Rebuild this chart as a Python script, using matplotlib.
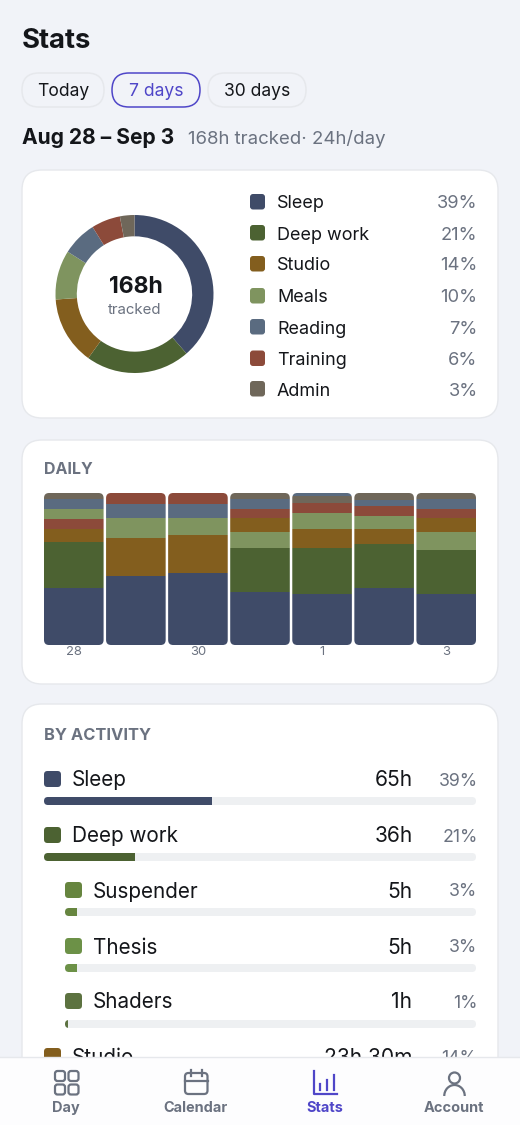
import matplotlib
matplotlib.use("Agg")
import matplotlib.pyplot as plt
import matplotlib.patches as patches

plt.rcParams['font.family'] = ['Inter', 'DejaVu Sans']

W, H = 520, 1125

# data
activities = ["Sleep", "Deep work", "Studio", "Meals", "Reading", "Training", "Admin"]
total_hours = [65, 36, 23.5, 17, 12, 10, 5]
percent_labels = ["39%", "21%", "14%", "10%", "7%", "6%", "3%"]

day_labels = ["28", "", "30", "", "1", "", "3"]
daily_order = [
    ["Sleep", "Deep work", "Studio", "Training", "Meals", "Reading", "Admin"],
    ["Sleep", "Studio", "Meals", "Reading", "Training"],
    ["Sleep", "Studio", "Meals", "Reading", "Training"],
    ["Sleep", "Deep work", "Meals", "Studio", "Training", "Reading", "Admin"],
    ["Sleep", "Deep work", "Studio", "Meals", "Training", "Admin", "Reading"],
    ["Sleep", "Deep work", "Studio", "Meals", "Training", "Reading", "Admin"],
    ["Sleep", "Deep work", "Meals", "Studio", "Training", "Reading", "Admin"],
]
daily_hours = [
    [9.05, 7.25, 2.0, 1.6, 1.6, 1.5, 1.0],
    [10.9, 5.95, 3.15, 2.3, 1.7],
    [11.3, 6.1, 2.6, 2.3, 1.7],
    [8.3, 7.05, 2.5, 2.15, 1.4, 1.6, 1.0],
    [8.0, 7.35, 2.95, 2.5, 1.6, 1.05, 0.55],
    [9.05, 6.9, 2.35, 2.1, 1.5, 1.05, 1.05],
    [8.0, 6.95, 2.9, 2.15, 1.4, 1.6, 1.0],
]

row_names = ["Sleep", "Deep work", "Suspender", "Thesis", "Shaders"]
row_hours = [65.2, 35.4, 4.8, 4.8, 1]
row_hour_labels = ["65h", "36h", "5h", "5h", "1h"]
row_percents = ["39%", "21%", "3%", "3%", "1%"]

colors = {"Sleep": "#3f4b68", "Deep work": "#4c6232", "Studio": "#835e1e", "Meals": "#7f945f",
          "Reading": "#5a6b80", "Training": "#8c4a3a", "Admin": "#6f675a",
          "Suspender": "#66853f", "Thesis": "#6c9147", "Shaders": "#5c7240"}

INK = "#14161a"
GREY = "#6b7280"
ACCENT = "#4f46c8"
BG = "#f1f3f8"
LINE = "#e6e8ec"


def px(size):
    return size * 0.72


fig = plt.figure(figsize=(W / 100, H / 100), dpi=100, facecolor=BG)
page = fig.add_axes([0, 0, 1, 1])
page.set_xlim(0, W)
page.set_ylim(H, 0)
page.axis("off")


def rbox(x0, y0, x1, y1, r, fc, ec="none", lw=1.0, z=1):
    box = patches.FancyBboxPatch((x0, y0), x1 - x0, y1 - y0, boxstyle=f"round,pad=0,rounding_size={r}",
                                 fc=fc, ec=ec, lw=lw, zorder=z, transform=page.transData)
    page.add_patch(box)
    return box


def label(x, y, s, size, color=INK, weight="normal", ha="left", z=3):
    page.text(x, y, s, fontsize=px(size), color=color, fontweight=weight, ha=ha, va="baseline", zorder=z)


def subAxes(x0, y0, x1, y1):
    ax = fig.add_axes([x0 / W, 1 - y1 / H, (x1 - x0) / W, (y1 - y0) / H], zorder=2)
    ax.patch.set_visible(False)
    return ax


# header
label(22, 48, "Stats", 27.5, weight="bold")
for x0, x1, txt, on in [(22, 104, "Today", False), (112, 200, "7 days", True), (208, 306, "30 days", False)]:
    rbox(x0, 73, x1, 107, 17, BG, ACCENT if on else LINE, 1.1)
    label((x0 + x1) / 2, 96, txt, 17.5, ACCENT if on else INK, ha="center")
label(22, 144, "Aug 28 – Sep 3", 21, weight="bold")
label(188, 144, "168h tracked· 24h/day", 18.6, GREY)

# cards
rbox(22, 170, 498, 418, 20, "white", LINE)
rbox(22, 440, 498, 684, 20, "white", LINE)
rbox(22, 704, 498, 1100, 20, "white", LINE)

# donut
ax_donut = subAxes(55.5, 215, 213.5, 373)
ax_donut.pie(total_hours, colors=[colors[a] for a in activities], startangle=90, counterclock=False,
             radius=1, wedgeprops={"width": 0.27, "linewidth": 0})
ax_donut.set_xlim(-1, 1)
ax_donut.set_ylim(-1, 1)
label(135.5, 293, "168h", 23, weight="bold", ha="center")
label(135, 314, "tracked", 15, GREY, ha="center")

legend_y = [202, 233, 264, 296, 327, 358.5, 389]
for name, pct, y in zip(activities, percent_labels, legend_y):
    rbox(250, y - 8, 265, y + 7.5, 3, colors[name])
    label(277, y + 6.5, name, 18)
    label(477.5, y + 6.5, pct, 18.3, GREY, ha="right")

# daily stacked bars
label(44, 474, "DAILY", 16, GREY, weight="bold")
ax_daily = subAxes(44, 493, 476, 645)
bar_w = 0.96
ax_daily.set_xlim(-bar_w / 2, 6 + bar_w / 2)
ax_daily.set_ylim(0, 24)
pitch = 432 / (6 + bar_w)
for i, (names, hours) in enumerate(zip(daily_order, daily_hours)):
    clip = patches.FancyBboxPatch((44 + pitch * i, 493), pitch * bar_w, 152,
                                  boxstyle="round,pad=0,rounding_size=5", fc="none", ec="none",
                                  transform=page.transData)
    bottom = 0
    for name, h in zip(names, hours):
        bar = ax_daily.bar(i, h, bottom=bottom, width=bar_w, color=colors[name], linewidth=0)
        bar[0].set_clip_path(clip)
        bottom += h
ax_daily.set_xticks(range(7), day_labels)
ax_daily.tick_params(axis="x", length=0, pad=1, labelsize=px(13), labelcolor=GREY)
ax_daily.set_yticks([])
for s in ax_daily.spines.values():
    s.set_visible(False)

# by activity rows
label(44, 740, "BY ACTIVITY", 16.5, GREY, weight="bold")
row_y = [779, 835, 890, 946, 1001]
bar_top = [797, 853, 908, 964, 1020]
row_x = [44, 44, 65, 65, 65]
for name, hrs, hlab, pct, y, bt, x0 in zip(row_names, row_hours, row_hour_labels, row_percents, row_y, bar_top, row_x):
    rbox(x0, y - 8, x0 + 17, y + 8, 3.5, colors[name])
    label(x0 + 28, y + 7.5, name, 20.7)
    label(412.5, y + 7.5, hlab, 21, ha="right")
    label(477.5, y + 6.5, pct, 17.7, GREY, ha="right")
    ax_row = subAxes(x0, bt, 476, bt + 8)
    clip = rbox(x0, bt, 476, bt + 8, 4, "#eef0f2", z=1)
    ax_row.set_xlim(0, 168 * (476 - x0) / 432)
    ax_row.set_ylim(-0.5, 0.5)
    fill = ax_row.barh(0, hrs, height=1, color=colors[name], linewidth=0)
    fill[0].set_clip_path(clip)
    ax_row.axis("off")

# row cut off by the nav bar
rbox(44, 1048, 61, 1070, 3.5, colors["Studio"])
label(72, 1064, "Studio", 20.7)
label(412.5, 1064, "23h 30m", 21, ha="right")
label(477.5, 1063, "14%", 17.7, GREY, ha="right")

# nav bar
page.add_patch(patches.Rectangle((0, 1057), W, H - 1057, fc="#fdfdfe", ec="none", zorder=5))
page.plot([0, W], [1057, 1057], color=LINE, lw=1, zorder=6)
nav_labels = ["Day", "Calendar", "Stats", "Account"]
nav_x = [66, 195, 325, 454]
for txt, x in zip(nav_labels, nav_x):
    label(x, 1112, txt, 14.5, ACCENT if txt == "Stats" else GREY, weight="bold", ha="center", z=7)

# day icon
for x0 in (55, 68.5):
    for y0 in (1071, 1084.5):
        rbox(x0, y0, x0 + 10, y0 + 10, 2.5, "none", GREY, 1.6, z=7)
# calendar icon
rbox(185, 1073, 207.5, 1094, 3.5, "none", GREY, 1.6, z=7)
page.plot([185, 207.5], [1080.5, 1080.5], color=GREY, lw=1.6, zorder=7)
for x in (190.5, 202):
    page.plot([x, x], [1070, 1076], color=GREY, lw=1.6, zorder=7)
# stats icon
page.plot([314, 314, 337], [1071, 1094, 1094], color=ACCENT, lw=1.6, zorder=7)
for x, top in [(320, 1084), (327, 1080), (334, 1075)]:
    page.plot([x, x], [top, 1090], color=ACCENT, lw=1.6, zorder=7)
# account icon
page.add_patch(patches.Circle((454.5, 1078), 5.5, fc="none", ec=GREY, lw=1.6, zorder=7))
page.add_patch(patches.Arc((454.5, 1096), 20.5, 22, theta1=180, theta2=360, ec=GREY, lw=1.6, zorder=7))

fig.savefig("out.png", dpi=100, facecolor=BG)
